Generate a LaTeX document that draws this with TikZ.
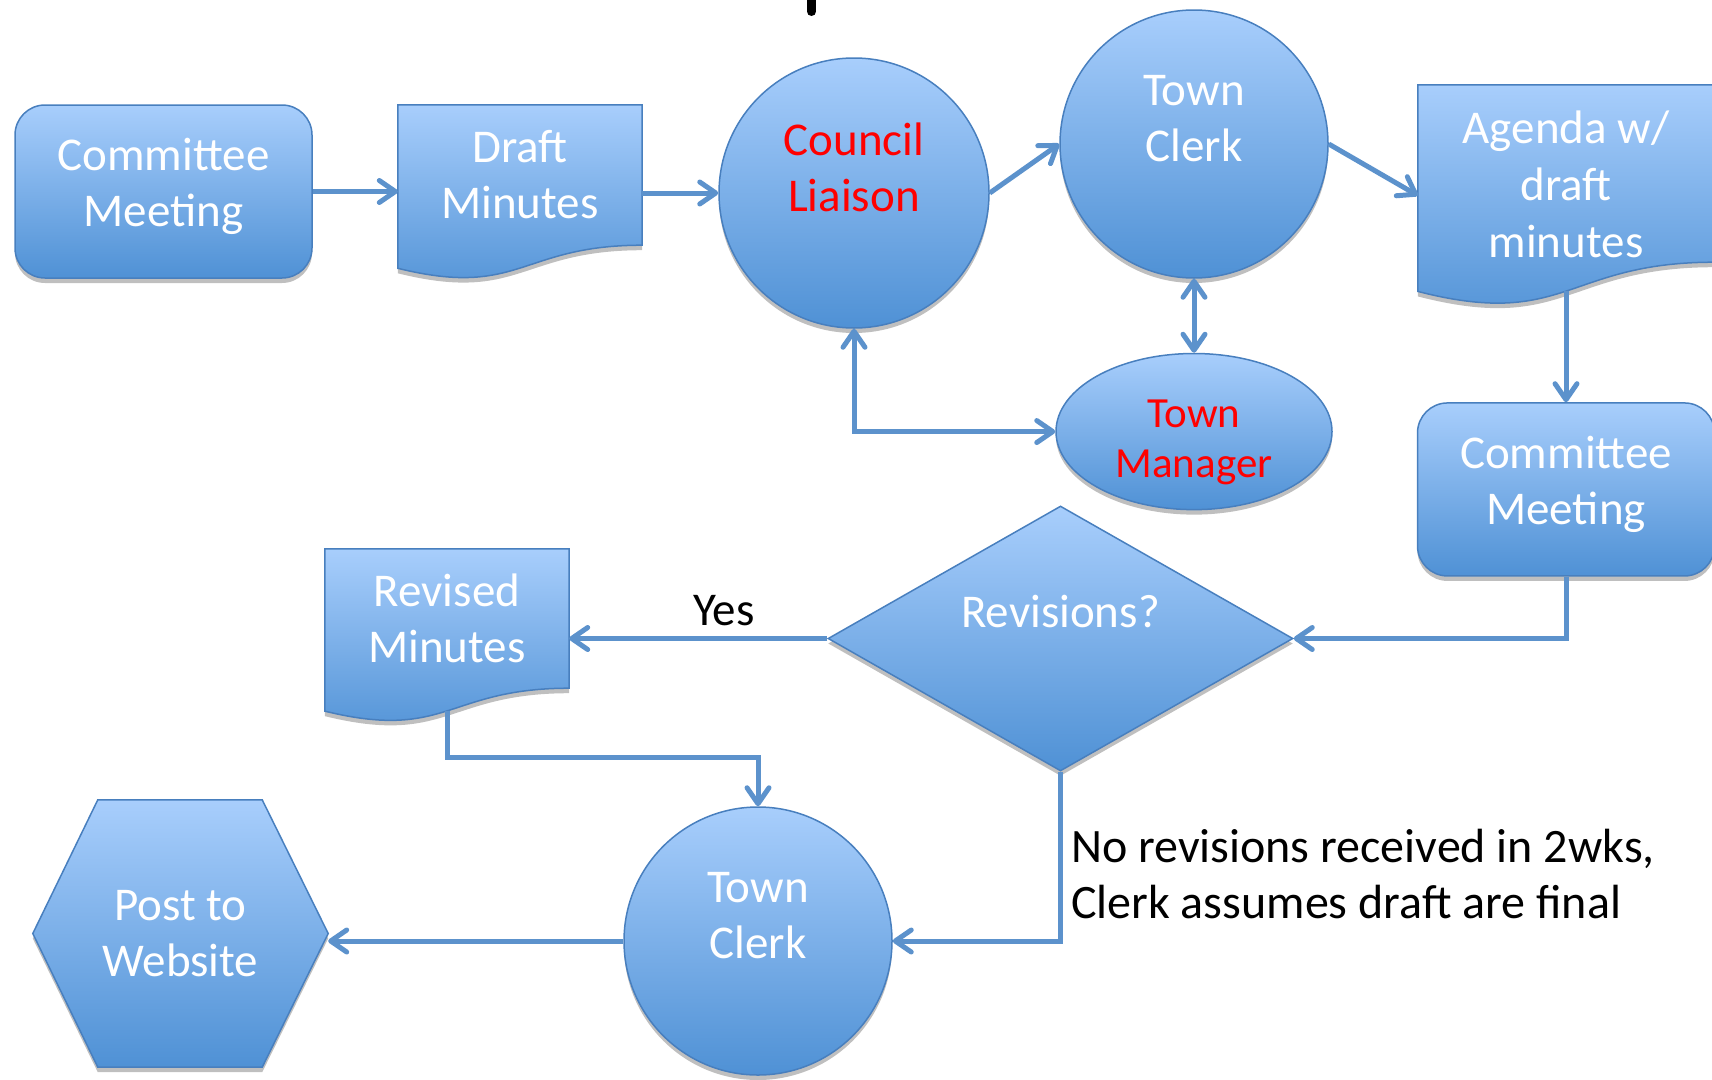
\documentclass[tikz,border=0pt]{standalone}
\usepackage{fontspec}
\setmainfont{Carlito}
\usetikzlibrary{arrows.meta,positioning,shapes.geometric,shadows,backgrounds}

\definecolor{shapetop}{RGB}{168,206,252}
\definecolor{shapebottom}{RGB}{79,145,213}
\definecolor{shapeedge}{RGB}{72,127,190}
\definecolor{linkblue}{RGB}{92,146,204}

\tikzset{
    blueshape/.style={draw=shapeedge, line width=1.5pt, top color=shapetop, bottom color=shapebottom,
        drop shadow={shadow xshift=0pt, shadow yshift=-5pt, opacity=0.25, fill=black}},
    shapetext/.style={text=white, align=center, inner sep=2pt},
    meetingbox/.style={blueshape, shapetext, rectangle, rounded corners=30pt, minimum width=297pt, minimum height=173pt, text depth=18pt},
    roundstep/.style={blueshape, shapetext, circle, minimum size=268pt, text depth=52pt},
    >={Straight Barb[length=16pt,width=22pt,round]},
    link/.style={draw=linkblue, line width=5pt, ->},
    linklabel/.style={text=black, inner sep=10pt},
}

\begin{document}
\begin{tikzpicture}[x=1pt, y=-1pt, every node/.style={font=\fontsize{47}{56}\selectfont}]
    \useasboundingbox (0,0) rectangle (1712,1079);

    \node (CommitteeMeeting) [meetingbox] at (163.5,191.5) {Committee\\Meeting};
    \node (DraftMinutes) [shapetext, minimum width=244pt, minimum height=140pt] at (520,175) {Draft\\Minutes};
    \node (CouncilLiaison) [roundstep, text=red, minimum size=270pt] at (854,193) {Council\\Liaison};
    \node (TownClerk) [roundstep] at (1194,144) {Town\\Clerk};
    \node (Agenda) [shapetext, minimum width=296pt, minimum height=177pt, text height=169pt, font=\fontsize{47}{57}\selectfont] at (1566,173.5) {Agenda w/\\draft\\minutes};
    \node (TownManager) [blueshape, shapetext, ellipse, text=red, minimum width=276pt, minimum height=155pt, text height=99pt,
        font=\fontsize{43}{50}\selectfont, below=74pt of TownClerk] {Town\\Manager};
    \node (ReviewMeeting) [meetingbox, below=140pt of Agenda] {Committee\\Meeting};
    \node (Revisions) [blueshape, shapetext, diamond, minimum width=465pt, minimum height=265pt, text height=0pt, text depth=23pt] at (1060.5,638.5) {Revisions?};
    \node (RevisedMinutes) [shapetext, minimum width=244pt, minimum height=139pt] at (447,618.5) {Revised\\Minutes};
    \node (FinalClerk) [roundstep] at (758,941) {Town\\Clerk};
    \node (Website) [shapetext, minimum width=295pt, minimum height=267pt] at (180.5,933.5) {Post to\\Website};

    \begin{scope}[on background layer]
        % documents with a wavy bottom edge
        \foreach \doc/\tall in {DraftMinutes/140, Agenda/177, RevisedMinutes/139}
            \path[blueshape] (\doc.north west) -- (\doc.north east) -- (\doc.south east)
                .. controls (\doc.south) and ([yshift=-0.381*\tall pt]\doc.south) .. ([yshift=-0.165*\tall pt]\doc.south west) -- cycle;
        % hexagon
        \path[blueshape] (Website.west) -- ([xshift=65pt]Website.north west) -- ([xshift=-66pt]Website.north east)
            -- (Website.east) -- ([xshift=-66pt]Website.south east) -- ([xshift=65pt]Website.south west) -- cycle;
    \end{scope}

    \coordinate (AgendaFoot) at ([yshift=-29pt]Agenda.south);
    \coordinate (RevisedFoot) at ([yshift=-22.7pt]RevisedMinutes.south);

    \draw[link] (CommitteeMeeting.east) -- (CommitteeMeeting.east -| DraftMinutes.west);
    \draw[link] (DraftMinutes.east |- CouncilLiaison) -- (CouncilLiaison.west);
    \draw[link] (CouncilLiaison.east) -- (TownClerk.west);
    \draw[link] (TownClerk.east) -- ([yshift=-22pt]Agenda.west);
    \draw[link, <->] (TownClerk.south) -- (TownManager.north);
    \draw[link, <->] (CouncilLiaison.south) |- (TownManager.west);
    \draw[link] (AgendaFoot) -- (ReviewMeeting.north);
    \draw[link] (ReviewMeeting.south) |- (Revisions.east);
    \draw[link] (Revisions.west) -- (Revisions.west -| RevisedMinutes.east) node[linklabel, above, pos=0.4] {Yes};
    \draw[link] (RevisedFoot) -- ++(0,47) -| (FinalClerk.north);
    \draw[link] (Revisions.south) |- (FinalClerk.east)
        node[linklabel, right, align=left, pos=0.302, inner sep=8pt, font=\fontsize{48}{56}\selectfont] {No revisions received in 2wks,\\Clerk assumes draft are final};
    \draw[link] (FinalClerk.west) -- (FinalClerk.west -| Website.east);

    % cut-off title stroke
    \draw[line width=9pt, line cap=round] (811.5,-6) -- (811.5,11.5);
\end{tikzpicture}
\end{document}
